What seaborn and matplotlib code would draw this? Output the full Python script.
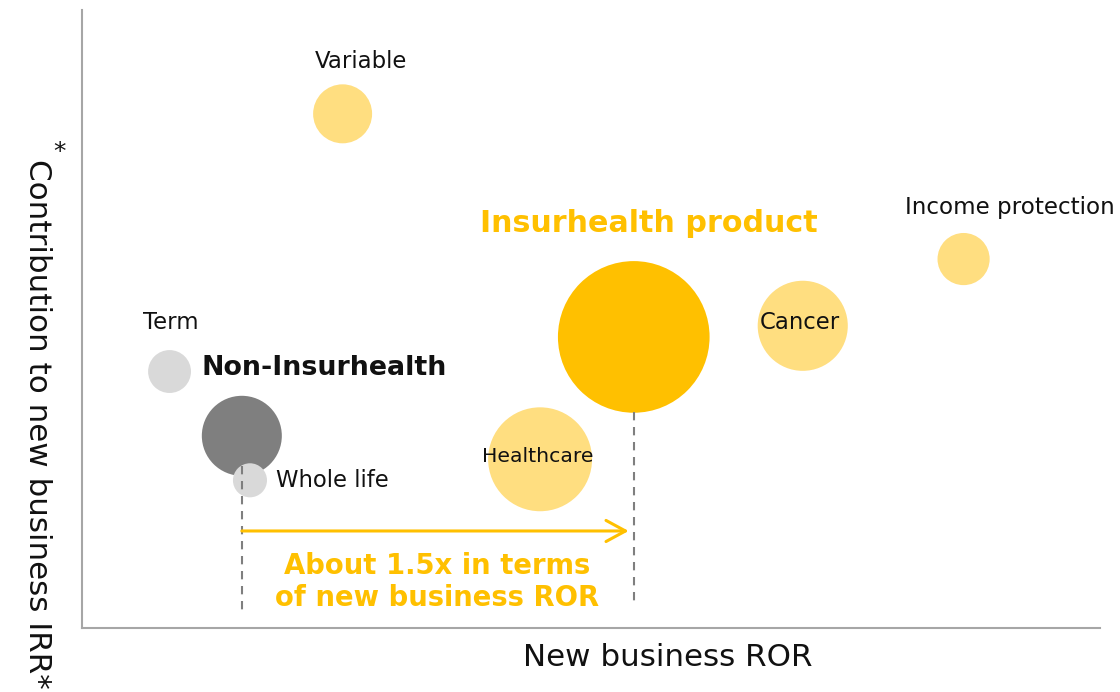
import matplotlib
matplotlib.use("Agg")
import matplotlib.pyplot as plt
import seaborn as sns
import pandas as pd

# ---- data ----
products = ["Variable", "Income protection", "Cancer", "Insurhealth product",
            "Healthcare", "Term", "Non-Insurhealth", "Whole life"]
ror = [25.6, 86.6, 70.8, 54.2, 45.0, 8.6, 15.7, 16.5]          # New business ROR (index)
irr = [83.2, 59.7, 48.9, 47.1, 27.3, 41.5, 31.1, 23.9]          # Contribution to new business IRR (index)
bubble = [8.7, 6.8, 20.3, 57.5, 27.0, 4.6, 16.0, 2.9]           # relative bubble area
group = ["Insurhealth", "Insurhealth", "Insurhealth", "Insurhealth total",
         "Insurhealth", "Non-Insurhealth", "Non-Insurhealth total", "Non-Insurhealth"]

palette = {"Insurhealth": "#FFDE80", "Insurhealth total": "#FFC000",
           "Non-Insurhealth": "#D9D9D9", "Non-Insurhealth total": "#7F7F7F"}

df = pd.DataFrame({"product": products, "ror": ror, "irr": irr,
                   "bubble": bubble, "group": group})

sns.set_style("white")
plt.rcParams["font.family"] = ["DejaVu Sans"]

W, H = 1120, 692
fig = plt.figure(figsize=(W / 100, H / 100), dpi=100)
ax = fig.add_axes([82 / W, 1 - 628 / H, (1100 - 82) / W, (628 - 10) / H])

sns.scatterplot(data=df, x="ror", y="irr", size="bubble",
                sizes=(0, 20736), size_norm=(0, 100), hue="group",
                palette=palette, linewidth=0, alpha=1, legend=False, ax=ax,
                zorder=3)

ax.set_xlim(0, 100)
ax.set_ylim(0, 100)
ax.set_xticks([])
ax.set_yticks([])
ax.set_xlabel("")
ax.set_ylabel("")
for s in ["top", "right"]:
    ax.spines[s].set_visible(False)
for s in ["left", "bottom"]:
    ax.spines[s].set_color("#A6A6A6")
    ax.spines[s].set_linewidth(1.5)

# dashed guide lines
ax.plot([ror[6], ror[6]], [26.2, 2.6], ls=(0, (4, 3.2)), color="#7F7F7F", lw=1.5, zorder=4)
ax.plot([ror[3], ror[3]], [35.0, 3.6], ls=(0, (4, 3.2)), color="#7F7F7F", lw=1.5, zorder=4)

# arrow
ax.annotate("", xy=(53.7, 15.7), xytext=(ror[6], 15.7),
            arrowprops=dict(arrowstyle="->,head_length=0.7,head_width=0.38",
                            color="#FFC000", lw=2.2, shrinkA=0, shrinkB=0,
                            mutation_scale=20), zorder=5)

ax.text(34.9, 7.4, "About 1.5x in terms\nof new business ROR", ha="center", va="center",
        fontsize=19.8, fontweight="bold", color="#FFC000", linespacing=1.2)

# labels
ax.text(27.4, 91.6, "Variable", ha="center", va="center", fontsize=16.4, color="#111111")
ax.text(55.7, 65.4, "Insurhealth product", ha="center", va="center", fontsize=21.7,
        fontweight="bold", color="#FFC000")
ax.text(91.1, 68.1, "Income protection", ha="center", va="center", fontsize=16.6,
        color="#111111", clip_on=False)
ax.text(70.5, 49.5, "Cancer", ha="center", va="center", fontsize=16.4, color="#111111", zorder=6)
ax.text(8.7, 49.4, "Term", ha="center", va="center", fontsize=16.4, color="#111111")
ax.text(11.7, 42.1, "Non-Insurhealth", ha="left", va="center", fontsize=19.4,
        fontweight="bold", color="#111111")
ax.text(19.1, 23.8, "Whole life", ha="left", va="center", fontsize=16.4, color="#111111")
ax.text(44.8, 27.8, "Healthcare", ha="center", va="center", fontsize=14.7, color="#111111", zorder=6)

# axis titles
fig.text(668 / W, 1 - 658 / H, "New business ROR", ha="center", va="center",
         fontsize=22.3, color="#111111")
fig.text(37 / W, 1 - 424 / H, "Contribution to new business IRR*", ha="center", va="center",
         rotation=270, fontsize=22.3, color="#111111")
fig.text(60 / W, 1 - 152 / H, "*", ha="center", va="center", fontsize=18, color="#111111")

fig.savefig("out.png", dpi=100)
